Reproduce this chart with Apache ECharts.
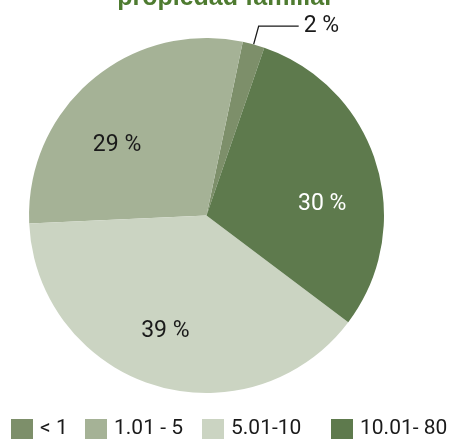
<!DOCTYPE html>
<html>
<head>
<meta charset="utf-8">
<script src="https://cdn.jsdelivr.net/npm/echarts@6/dist/echarts.min.js"></script>
<style>
  html, body { margin: 0; padding: 0; background: #ffffff; }
  #chart { width: 451px; height: 439px; }
</style>
</head>
<body>
<div id="chart"></div>
<script>
// Farm size classes (ha) and their share of family-owned holdings (%)
const categories = ['< 1', '1.01 - 5', '5.01-10', '10.01- 80'];
const shares = [2, 29, 39, 30];
const titleText = 'propiedad familiar';

const sliceColors = ['#7d8f6a', '#a5b296', '#cbd4c2', '#5e7a4d'];
const labelColors = ['#1a1a1a', '#1a1a1a', '#1a1a1a', '#ffffff'];
// nudges for the in-slice percentage labels
const labelOffsets = [[0, 0], [-30, 0], [-14, 28], [28, 16]];
const legendLeft = [11, 85, 202, 331];

const FONT = 'Roboto, "Noto Sans", sans-serif';

const pieData = categories.map((name, i) => {
  const item = {
    name: name,
    value: shares[i],
    itemStyle: { color: sliceColors[i] },
    label: {
      color: labelColors[i],
      position: 'inside',
      offset: labelOffsets[i]
    },
    labelLine: { show: false }
  };
  if (i === 0) {
    item.label = { position: 'outside', color: labelColors[i] };
    item.labelLine = {
      show: true,
      length: 19,
      length2: 40,
      lineStyle: { color: '#1a1a1a', width: 1.3 }
    };
  }
  return item;
});

const chart = echarts.init(document.getElementById('chart'), null, { renderer: 'canvas' });
chart.setOption({
  animation: false,
  backgroundColor: '#ffffff',
  title: {
    text: titleText,
    left: 'center',
    top: -14,
    padding: 0,
    textStyle: {
      fontFamily: '"Liberation Sans", Arial, sans-serif',
      fontWeight: 'bold',
      fontSize: 25,
      lineHeight: 25,
      color: '#4e7b30'
    }
  },
  legend: categories.map((name, i) => ({
    data: [name],
    left: legendLeft[i],
    top: 418,
    padding: 0,
    itemWidth: 22,
    itemHeight: 20,
    icon: 'rect',
    selectedMode: false,
    textStyle: {
      fontFamily: FONT,
      fontSize: 21,
      lineHeight: 20,
      color: '#1a1a1a',
      padding: [2, 0, 0, 2]
    }
  })),
  series: [{
    type: 'pie',
    center: [206.5, 215.5],
    radius: 177.5,
    startAngle: 71,
    clockwise: false,
    avoidLabelOverlap: false,
    label: {
      show: true,
      formatter: '{c} %',
      fontFamily: FONT,
      fontSize: 23
    },
    itemStyle: { borderWidth: 0 },
    emphasis: { disabled: true },
    data: pieData
  }]
});
</script>
</body>
</html>
